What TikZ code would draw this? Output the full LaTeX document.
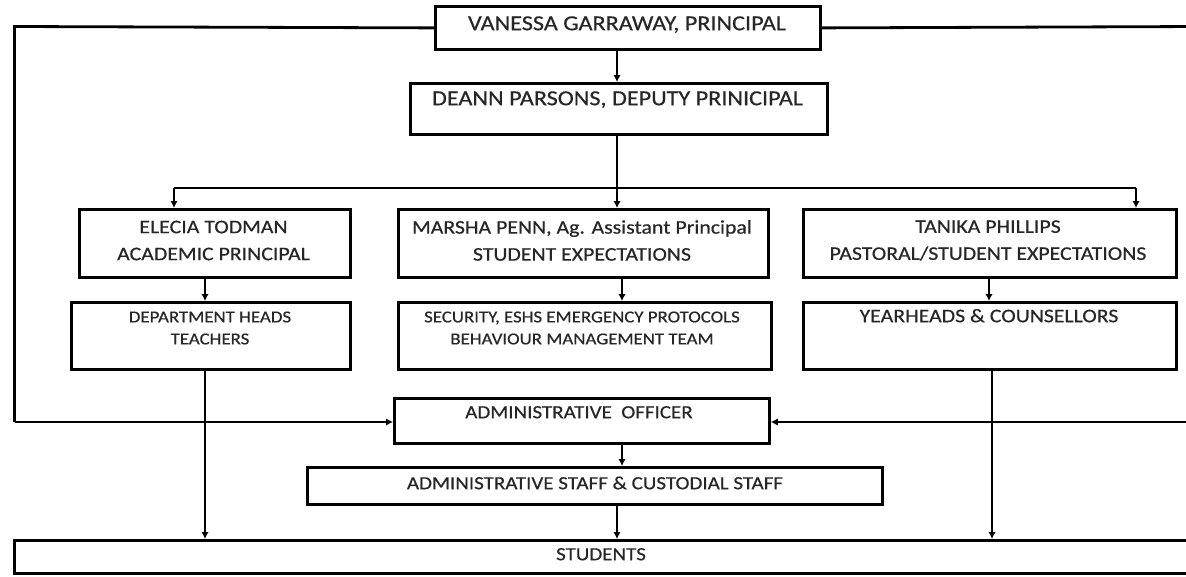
\documentclass[tikz,border=0pt]{standalone}
\usepackage{fontspec}
\setmainfont{Carlito}[FakeStretch=1.13, FakeBold=0.5]
\usetikzlibrary{arrows.meta}
\tikzset{
  box/.style={draw=black, line width=2.8pt, rectangle, inner sep=0pt, anchor=north west},
  txt/.style={text=black!85, align=center, inner sep=0pt},
  conn/.style={draw=black, line width=2.8pt},
  arr/.style={conn, -{Latex[length=7pt,width=7.5pt]}},
  fA/.style={font=\fontsize{21.4}{26}\selectfont},
  fB/.style={font=\fontsize{19.3}{27}\selectfont},
  fC/.style={font=\fontsize{16.7}{22}\selectfont},
  fD/.style={font=\fontsize{18.6}{22}\selectfont},
}
\begin{document}
\begin{tikzpicture}[x=1pt,y=-1pt]
\useasboundingbox (0,0) rectangle (1186,576);
% boxes
\node[box, minimum width=385pt, minimum height=43pt] (P) at (434,5) {};
\node[box, minimum width=417pt, minimum height=51pt] (D) at (409,82) {};
\node[box, minimum width=271pt, minimum height=68pt] (E) at (78,208) {};
\node[box, minimum width=370pt, minimum height=68pt] (M) at (397,208) {};
\node[box, minimum width=373pt, minimum height=68pt] (T) at (802,208) {};
\node[box, minimum width=279pt, minimum height=67pt] (DH) at (70,301) {};
\node[box, minimum width=373pt, minimum height=67pt] (S) at (397,301) {};
\node[box, minimum width=373pt, minimum height=67pt] (Y) at (802,301) {};
\node[box, minimum width=375pt, minimum height=45pt] (AO) at (393,397) {};
\node[box, minimum width=575pt, minimum height=37pt] (AS) at (306,466) {};
\node[box, minimum width=1182pt, minimum height=33pt] (ST) at (13,539) {};
% texts
\node[txt, fA, text height=0.644em, text depth=0pt] (Pt) at (627,27) {VANESSA GARRAWAY, PRINCIPAL};
\node[txt, fA, text height=0.644em, text depth=0pt] (Dt) at (617.5,102) {DEANN PARSONS, DEPUTY PRINICIPAL};
\node[txt, fB] (Et) at (213.5,240.5) {ELECIA TODMAN\\ACADEMIC PRINCIPAL};
\node[txt, fB] (Mt) at (582,240.5) {MARSHA PENN, Ag. Assistant Principal\\STUDENT EXPECTATIONS};
\node[txt, fB] (Tt) at (988,240.5) {TANIKA PHILLIPS\\PASTORAL/STUDENT EXPECTATIONS};
\node[txt, fC] (DHt) at (210,328) {DEPARTMENT HEADS\\TEACHERS};
\node[txt, fC] (St) at (582,328) {SECURITY, ESHS EMERGENCY PROTOCOLS\\BEHAVIOUR MANAGEMENT TEAM};
\node[txt, fB, text height=0.644em, text depth=0pt] (Yt) at (989,319) {YEARHEADS \& COUNSELLORS};
\node[txt, fD, text height=0.644em, text depth=0pt] (AOt) at (579,415) {ADMINISTRATIVE\ \ OFFICER};
\node[txt, fD, text height=0.644em, text depth=0pt] (ASt) at (595,486) {ADMINISTRATIVE STAFF \& CUSTODIAL STAFF};
\node[txt, fD, text height=0.644em, text depth=0pt] (STt) at (601,557) {STUDENTS};
% helper coordinates
\coordinate (LT) at (14.5,26.5);
\coordinate (LB) at (14.5,422);
\coordinate (RT) at (1200,26.5);
\coordinate (RB) at (1200,422);
\coordinate (B1) at (174,188);
\coordinate (B2) at (617,188);
\coordinate (B3) at (1136,188);
\coordinate (k1) at (205,0);
\coordinate (k2) at (622,0);
\coordinate (k3) at (989,0);
\coordinate (m1) at (205,0);
\coordinate (m3) at (992,0);
\coordinate (c1) at (617,0);
% connectors
\draw[conn] (P.west) -- (LT) -- (LB);
\draw[arr] (LB) -- (LB -| AO.west);
\draw[conn] (P.east) -- (RT) -- (RB);
\draw[arr] (RB) -- (RB -| AO.east);
\draw[arr] (P.south -| c1) -- (c1 |- D.north);
\draw[conn] (D.south -| c1) -- (B2);
\draw[conn] (B1) -- (B3);
\draw[arr] (B1) -- (B1 |- E.north);
\draw[arr] (B2) -- (B2 |- M.north);
\draw[arr] (B3) -- (B3 |- T.north);
\draw[arr] (E.south -| k1) -- (k1 |- DH.north);
\draw[arr] (M.south -| k2) -- (k2 |- S.north);
\draw[arr] (T.south -| k3) -- (k3 |- Y.north);
\draw[arr] (DH.south -| m1) -- (m1 |- ST.north);
\draw[arr] (Y.south -| m3) -- (m3 |- ST.north);
\draw[arr] (AO.south -| k2) -- (k2 |- AS.north);
\draw[arr] (AS.south -| c1) -- (c1 |- ST.north);
\end{tikzpicture}
\end{document}
